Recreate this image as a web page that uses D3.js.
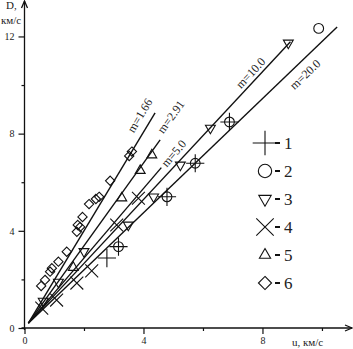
<!DOCTYPE html>
<html>
<head>
<meta charset="utf-8">
<script src="https://cdn.jsdelivr.net/npm/d3@7"></script>
<style>
  body { margin: 0; background: #fff; }
  svg { display: block; }
</style>
</head>
<body>
<div id="chart"></div>
<script>
// series 1 (+) and 2 (o) -- u, km/s vs D, km/s
const s1U = [2.77, 3.16, 4.79, 5.74, 6.89];
const s1D = [2.88, 3.35, 5.40, 6.78, 8.48];
const s2U = [3.16, 4.79, 5.74, 6.89, 9.89];
const s2D = [3.35, 5.40, 6.78, 8.48, 12.33];
// series 3 (down triangle)
const s3U = [0.63, 1.14, 2.00, 3.49, 4.34, 5.24, 6.25, 8.87];
const s3D = [1.11, 1.89, 3.15, 4.24, 5.40, 6.71, 8.23, 11.73];
// series 4 (x)
const s4U = [0.58, 1.08, 1.76, 2.26, 3.10, 3.83];
const s4D = [0.82, 1.15, 1.85, 2.35, 4.24, 5.34];
// series 5 (up triangle)
const s5U = [1.64, 3.27, 3.89, 4.28];
const s5D = [2.49, 5.35, 6.48, 7.12];
// series 6 (diamond)
const s6U = [0.56, 0.69, 0.86, 0.92, 1.14, 1.42, 1.76, 1.79, 1.87, 1.95, 2.17, 2.40, 2.51, 2.88, 3.52, 3.61];
const s6D = [1.73, 1.98, 2.32, 2.46, 2.73, 3.14, 3.96, 4.24, 4.16, 4.57, 5.10, 5.31, 5.40, 6.06, 7.08, 7.26];

// fitted lines, all starting near the origin
const lineNames = ['m=1.66', 'm=2.91', 'm=5.0', 'm=10.0', 'm=20.0'];
const lineU0 = 0.13, lineD0 = 0.2;
const lineEndU = [4.39, 4.56, 4.60, 8.94, 10.51];
const lineEndD = [8.85, 7.74, 6.60, 11.78, 12.39];

const xMajor = [0, 4, 8], xMinor = [2, 6, 10];
const yMajor = [0, 4, 8, 12], yMinor = [2, 6, 10];
const legendNames = ['1', '2', '3', '4', '5', '6'];

const width = 353, height = 349;
const font = '"Liberation Serif", "DejaVu Serif", serif';

const svg = d3.select('#chart').append('svg')
  .attr('width', width)
  .attr('height', height);

const x = d3.scaleLinear().domain([0, 11]).range([24.5, 351.7]);
const y = d3.scaleLinear().domain([0, 13.5]).range([328, 0]);

// axes
const xAxis = g => g.attr('transform', `translate(0,${y(0)})`)
  .call(d3.axisBottom(x).tickValues(xMajor).tickSize(6).tickPadding(3))
  .call(g => g.select('.domain').remove());
const xAxisMinor = g => g.attr('transform', `translate(0,${y(0)})`)
  .call(d3.axisBottom(x).tickValues(xMinor).tickSize(3).tickFormat(''))
  .call(g => g.select('.domain').remove());
const yAxis = g => g.attr('transform', `translate(${x(0)},0)`)
  .call(d3.axisLeft(y).tickValues(yMajor).tickSize(6).tickPadding(4))
  .call(g => g.select('.domain').remove());
const yAxisMinor = g => g.attr('transform', `translate(${x(0)},0)`)
  .call(d3.axisLeft(y).tickValues(yMinor).tickSize(3).tickFormat(''))
  .call(g => g.select('.domain').remove());

[xAxis, xAxisMinor, yAxis, yAxisMinor].forEach(f => {
  svg.append('g').call(f)
    .attr('font-family', font)
    .attr('font-size', 10)
    .call(g => g.selectAll('line').attr('stroke', '#111').attr('stroke-width', 1.2))
    .call(g => g.selectAll('text').attr('fill', '#222'));
});

// axis lines with arrows
const ax = svg.append('g').attr('stroke', '#111').attr('stroke-width', 1.3).attr('fill', 'none');
ax.append('line').attr('x1', x(0) - 3).attr('y1', y(0)).attr('x2', width - 1).attr('y2', y(0));
ax.append('path').attr('d', `M${width - 8},${y(0) - 3}L${width - 1},${y(0)}L${width - 8},${y(0) + 3}`);
ax.append('line').attr('x1', x(0)).attr('y1', y(0) + 2).attr('x2', x(0)).attr('y2', 1);
ax.append('path').attr('d', `M${x(0) - 3},8L${x(0)},1L${x(0) + 3},8`);

svg.append('text').attr('x', 6).attr('y', 9)
  .attr('font-family', font).attr('font-size', 11).attr('fill', '#222').text('D,');
svg.append('text').attr('x', 1).attr('y', 24)
  .attr('font-family', font).attr('font-size', 11).attr('fill', '#222').text('км/с');
svg.append('text').attr('x', 292).attr('y', 346)
  .attr('font-family', font).attr('font-size', 11).attr('fill', '#222').text('u, км/с');

// lines + labels
const labelOff = [[-10, -12], [25, -5], [19, 0], [-50, -8], [-56, 12]];
lineNames.forEach((name, i) => {
  const x0 = x(lineU0), y0 = y(lineD0), x1 = x(lineEndU[i]), y1 = y(lineEndD[i]);
  svg.append('line')
    .attr('x1', x0).attr('y1', y0).attr('x2', x1).attr('y2', y1)
    .attr('stroke', '#111').attr('stroke-width', 1.4);
  const len = Math.hypot(x1 - x0, y1 - y0);
  const dx = (x1 - x0) / len, dy = (y1 - y0) / len;
  const nx = -dy, ny = dx; // normal pointing right/down
  const [a, p] = labelOff[i];
  const cx = x1 + dx * a + nx * p, cy = y1 + dy * a + ny * p;
  const ang = Math.atan2(dy, dx) * 180 / Math.PI;
  svg.append('text')
    .attr('transform', `translate(${cx},${cy}) rotate(${ang})`)
    .attr('text-anchor', 'middle').attr('dy', '0.35em')
    .attr('font-family', font).attr('font-size', 12).attr('fill', '#222')
    .text(name);
});

// markers
const sym = {
  plus: d3.symbol(d3.symbolPlus, 110),
  circle: d3.symbol(d3.symbolCircle, 75),
  tri: d3.symbol(d3.symbolTriangle2, 70),
  times: d3.symbol(d3.symbolTimes, 110),
  diamond: d3.symbol(d3.symbolDiamond2, 55)
};
const series = [
  { u: s1U, d: s1D, path: sym.plus(), rot: 0 },
  { u: s2U, d: s2D, path: sym.circle(), rot: 0 },
  { u: s3U, d: s3D, path: sym.tri(), rot: 180 },
  { u: s4U, d: s4D, path: sym.times(), rot: 0 },
  { u: s5U, d: s5D, path: sym.tri(), rot: 0 },
  { u: s6U, d: s6D, path: sym.diamond(), rot: 0 }
];
series.forEach(s => {
  svg.append('g')
    .selectAll('path')
    .data(d3.range(s.u.length))
    .join('path')
      .attr('transform', i => `translate(${x(s.u[i])},${y(s.d[i])}) rotate(${s.rot})`)
      .attr('d', s.path)
      .attr('fill', 'none')
      .attr('stroke', '#111')
      .attr('stroke-width', 1.1);
});

// legend
const legendSym = [
  d3.symbol(d3.symbolPlus, 200)(),
  d3.symbol(d3.symbolCircle, 140)(),
  d3.symbol(d3.symbolTriangle2, 110)(),
  d3.symbol(d3.symbolTimes, 200)(),
  d3.symbol(d3.symbolTriangle2, 90)(),
  d3.symbol(d3.symbolDiamond2, 110)()
];
const legendRot = [0, 0, 180, 0, 0, 0];
const leg = svg.append('g').attr('transform', 'translate(265,143)');
legendNames.forEach((n, i) => {
  const row = leg.append('g').attr('transform', `translate(0,${i * 28})`);
  row.append('path').attr('d', legendSym[i])
    .attr('transform', `rotate(${legendRot[i]})`)
    .attr('fill', 'none').attr('stroke', '#111').attr('stroke-width', 1.1);
  row.append('line').attr('x1', 10).attr('x2', 15).attr('y1', 0).attr('y2', 0)
    .attr('stroke', '#111').attr('stroke-width', 2);
  row.append('text').attr('x', 19).attr('y', 6)
    .attr('font-family', font).attr('font-size', 17).attr('fill', '#222').text(n);
});
</script>
</body>
</html>
